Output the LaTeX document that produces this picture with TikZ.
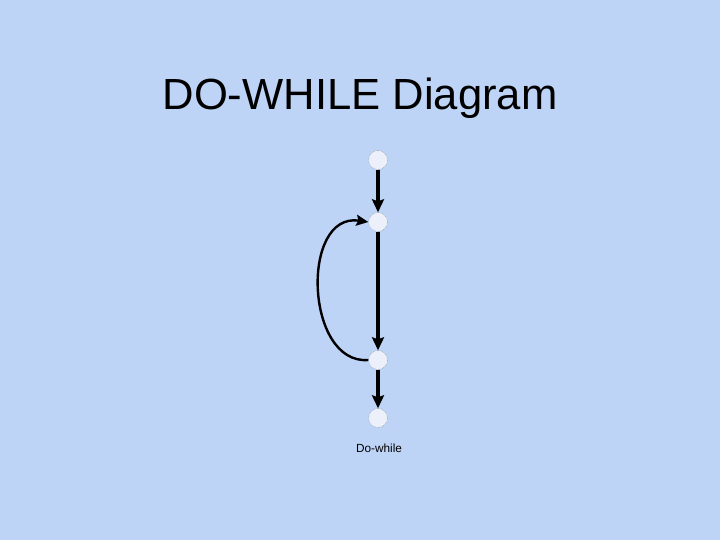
\documentclass[tikz,border=0pt]{standalone}
\usepackage{fontspec}
\setmainfont{Liberation Sans}
\usepackage{tikz}
\usetikzlibrary{arrows.meta}
\definecolor{slidebg}{RGB}{190,212,247}
\definecolor{pointfill}{RGB}{236,240,250}

\tikzset{
  point/.style={circle,fill=pointfill,draw=black!55,densely dotted,thin,minimum size=19bp,inner sep=0pt},
  flow/.style={line width=3.2bp,-{Stealth[length=13bp,width=12bp,inset=2bp]}},
  back/.style={line width=2.4bp,-{Stealth[length=12bp,width=11bp,inset=2bp]}}
}

\begin{document}
\begin{tikzpicture}[x=1bp,y=-1bp]
\fill[slidebg] (0,0) rectangle (720,540);
\useasboundingbox (0,0) rectangle (720,540);

\node[anchor=base] (title) at (360,110) {\fontsize{43.6bp}{50bp}\selectfont DO-WHILE Diagram};

\node[point] (p1) at (378,160) {};
\node[point] (p2) at (378,222) {};
\node[point] (p3) at (378,360) {};
\node[point] (p4) at (378,418) {};

\draw[flow] (p1) -- (p2);
\draw[flow] (p2) -- (p3);
\draw[flow] (p3) -- (p4);
\draw[back] (p3.west) .. controls (305,365) and (300,212) .. (p2.west);

\node[anchor=base] (caption) at (379,452) {\fontsize{11.8bp}{14bp}\selectfont Do-while};
\end{tikzpicture}
\end{document}
